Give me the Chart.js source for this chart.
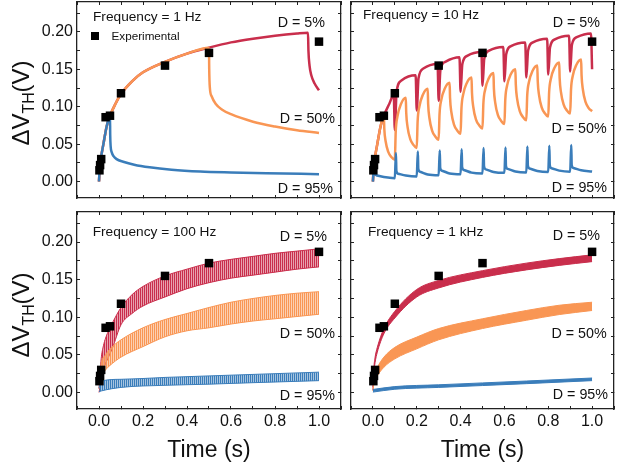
<!DOCTYPE html>
<html>
<head>
<meta charset="utf-8">
<script src="https://cdn.jsdelivr.net/npm/chart.js@4.4.0/dist/chart.umd.min.js"></script>
<style>
  html, body { margin: 0; padding: 0; background: #fff; }
  body { width: 619px; height: 467px; position: relative; overflow: hidden; font-family: 'Liberation Sans', Arial, sans-serif; color: #111; }
  canvas { position: absolute; }
  .lbl { position: absolute; white-space: nowrap; line-height: 1; transform: translateY(-50%); }
  .ytitle { position: absolute; white-space: nowrap; font-size: 24px; line-height: 1; transform: translate(-50%, -50%) rotate(-90deg); }
  .ytitle sub { font-size: 0.66em; vertical-align: -0.28em; }
  .sq { position: absolute; width: 8px; height: 8px; background: #000; }
</style>
</head>
<body>
<canvas id="c1" width="345" height="200" style="left:0;top:0;width:345px;height:200px"></canvas>
<canvas id="c2" width="274" height="200" style="left:345px;top:0;width:274px;height:200px"></canvas>
<canvas id="c3" width="345" height="262" style="left:0;top:205px;width:345px;height:262px"></canvas>
<canvas id="c4" width="274" height="262" style="left:345px;top:205px;width:274px;height:262px"></canvas>
<div class="ytitle" style="left:23px;top:103px">ΔV<sub>TH</sub>(V)</div>
<div class="ytitle" style="left:23px;top:315px">ΔV<sub>TH</sub>(V)</div>
<div class="sq" style="left:91px;top:32px"></div>
<script>
// axes
const xTicks = [-0.1, 0, 0.1, 0.2, 0.3, 0.4, 0.5, 0.6, 0.7, 0.8, 0.9, 1.0, 1.1]
const xLabelled = [0, 0.2, 0.4, 0.6, 0.8, 1.0]
const yTicks = [0, 0.025, 0.05, 0.075, 0.1, 0.125, 0.15, 0.175, 0.2, 0.225]
const yLabelled = [0, 0.05, 0.1, 0.15, 0.2]

// measured points (same in every panel)
const expTime = [0.002, 0.005, 0.01, 0.03, 0.05, 0.1, 0.3, 0.5, 1.0]
const expDvth = [0.015, 0.022, 0.030, 0.086, 0.088, 0.118, 0.155, 0.172, 0.187]

// 1 Hz
const t1Blue = [0, 0.003, 0.008, 0.02, 0.035, 0.05, 0.051, 0.053, 0.058, 0.066, 0.08, 0.11, 0.16, 0.23, 0.33, 0.46, 0.6, 0.76, 1.0]
const v1Blue = [0, 0.018, 0.03, 0.05, 0.074, 0.088, 0.062, 0.047, 0.039, 0.034, 0.030, 0.0265, 0.0225, 0.019, 0.0158, 0.0134, 0.0121, 0.011, 0.0099]
const t1Orange = [0, 0.003, 0.008, 0.02, 0.035, 0.05, 0.075, 0.1, 0.15, 0.2, 0.3, 0.4, 0.5, 0.501, 0.504, 0.512, 0.53, 0.56, 0.6, 0.7, 0.8, 0.9, 1.0]
const v1Orange = [0, 0.018, 0.03, 0.05, 0.074, 0.088, 0.104, 0.117, 0.134, 0.146, 0.160, 0.171, 0.179, 0.15, 0.125, 0.114, 0.104, 0.096, 0.090, 0.080, 0.0735, 0.0685, 0.065]
const t1Red = [0, 0.003, 0.008, 0.02, 0.035, 0.05, 0.075, 0.1, 0.15, 0.2, 0.3, 0.4, 0.5, 0.6, 0.7, 0.8, 0.9, 0.95, 0.952, 0.957, 0.965, 0.98, 1.0]
const v1Red = [0, 0.018, 0.03, 0.05, 0.074, 0.088, 0.104, 0.117, 0.134, 0.146, 0.160, 0.171, 0.179, 0.186, 0.191, 0.195, 0.198, 0.199, 0.175, 0.155, 0.142, 0.131, 0.122]

// 10 Hz
const t10Red = [0, 0.003, 0.008, 0.02, 0.035, 0.05, 0.075, 0.095,
  0.1, 0.108, 0.13, 0.195, 0.2, 0.208, 0.23, 0.295, 0.3, 0.308, 0.33, 0.395,
  0.4, 0.408, 0.43, 0.495, 0.5, 0.508, 0.53, 0.595, 0.6, 0.608, 0.63, 0.695,
  0.7, 0.708, 0.73, 0.795, 0.8, 0.808, 0.83, 0.895, 0.9, 0.908, 0.93, 0.995, 1.0]
const v10Red = [0, 0.018, 0.03, 0.05, 0.074, 0.088, 0.104, 0.116,
  0.069, 0.120, 0.135, 0.142, 0.095, 0.138, 0.151, 0.157, 0.108, 0.149, 0.160, 0.166,
  0.120, 0.157, 0.168, 0.173, 0.128, 0.164, 0.175, 0.180, 0.134, 0.170, 0.181, 0.186,
  0.139, 0.175, 0.186, 0.191, 0.143, 0.179, 0.190, 0.195, 0.147, 0.183, 0.193, 0.198, 0.150]
const t10Orange = [0, 0.003, 0.008, 0.02, 0.035, 0.05, 0.052, 0.058, 0.07, 0.085,
  0.1, 0.104, 0.112, 0.128, 0.15, 0.152, 0.158, 0.17, 0.185,
  0.2, 0.204, 0.212, 0.228, 0.25, 0.252, 0.258, 0.27, 0.285,
  0.3, 0.304, 0.312, 0.328, 0.35, 0.352, 0.358, 0.37, 0.385,
  0.4, 0.404, 0.412, 0.428, 0.45, 0.452, 0.458, 0.47, 0.485,
  0.5, 0.504, 0.512, 0.528, 0.55, 0.552, 0.558, 0.57, 0.585,
  0.6, 0.604, 0.612, 0.628, 0.65, 0.652, 0.658, 0.67, 0.685,
  0.7, 0.704, 0.712, 0.728, 0.75, 0.752, 0.758, 0.77, 0.785,
  0.8, 0.804, 0.812, 0.828, 0.85, 0.852, 0.858, 0.87, 0.885,
  0.9, 0.904, 0.912, 0.928, 0.95, 0.952, 0.958, 0.97, 0.985, 1.0]
const v10Orange = [0, 0.018, 0.03, 0.05, 0.074, 0.088, 0.0703, 0.0538, 0.0396, 0.0325,
  0.029, 0.0664, 0.0871, 0.1037, 0.112, 0.0919, 0.0731, 0.0571, 0.049,
  0.045, 0.0806, 0.1003, 0.1161, 0.124, 0.1036, 0.0846, 0.0682, 0.0601,
  0.056, 0.0902, 0.1092, 0.1244, 0.132, 0.1116, 0.0926, 0.0762, 0.0681,
  0.064, 0.0978, 0.1165, 0.1315, 0.139, 0.1186, 0.0996, 0.0832, 0.0751,
  0.071, 0.1043, 0.1228, 0.1376, 0.145, 0.1246, 0.1056, 0.0892, 0.0811,
  0.077, 0.1099, 0.1281, 0.1427, 0.150, 0.1296, 0.1106, 0.0942, 0.0861,
  0.082, 0.1149, 0.1331, 0.1477, 0.155, 0.1346, 0.1156, 0.0992, 0.0911,
  0.087, 0.1194, 0.1374, 0.1518, 0.159, 0.1386, 0.1196, 0.1032, 0.0951,
  0.091, 0.1234, 0.1414, 0.1558, 0.163, 0.1423, 0.123, 0.1064, 0.0981, 0.094]
const t10Blue = [0, 0.005, 0.007, 0.015, 0.05,
  0.1, 0.105, 0.107, 0.115, 0.15, 0.2, 0.205, 0.207, 0.215, 0.25,
  0.3, 0.305, 0.307, 0.315, 0.35, 0.4, 0.405, 0.407, 0.415, 0.45,
  0.5, 0.505, 0.507, 0.515, 0.55, 0.6, 0.605, 0.607, 0.615, 0.65,
  0.7, 0.705, 0.707, 0.715, 0.75, 0.8, 0.805, 0.807, 0.815, 0.85,
  0.9, 0.905, 0.907, 0.915, 0.95, 1.0]
const v10Blue = [0, 0.02, 0.011, 0.0085, 0.006,
  0.0045, 0.038, 0.0145, 0.0105, 0.008, 0.0067, 0.040, 0.017, 0.013, 0.0095,
  0.0085, 0.0415, 0.0185, 0.0145, 0.0108, 0.0098, 0.043, 0.0195, 0.0155, 0.0119,
  0.0108, 0.0447, 0.0203, 0.0163, 0.0128, 0.0116, 0.0455, 0.0209, 0.0169, 0.0135,
  0.0122, 0.047, 0.0214, 0.0174, 0.0141, 0.0127, 0.048, 0.0218, 0.0178, 0.0146,
  0.0131, 0.049, 0.0222, 0.0182, 0.0150, 0.0134]

// 100 Hz (upper / lower edge of the dense ripple)
const t100Red = [0, 0.01, 0.02, 0.04, 0.06, 0.1, 0.15, 0.2, 0.3, 0.4, 0.5, 0.6, 0.7, 0.8, 0.9, 1.0]
const hi100Red = [0.005, 0.045, 0.062, 0.08, 0.092, 0.113, 0.13, 0.141, 0.155, 0.164, 0.172, 0.177, 0.181, 0.185, 0.188, 0.191]
const lo100Red = [0, 0.015, 0.03, 0.045, 0.058, 0.09, 0.105, 0.115, 0.127, 0.138, 0.146, 0.152, 0.156, 0.16, 0.164, 0.167]
const t100Orange = [0, 0.01, 0.03, 0.05, 0.1, 0.2, 0.3, 0.4, 0.5, 0.6, 0.7, 0.8, 0.9, 1.0]
const hi100Orange = [0.012, 0.038, 0.05, 0.058, 0.07, 0.086, 0.097, 0.105, 0.113, 0.12, 0.125, 0.129, 0.132, 0.134]
const lo100Orange = [0.005, 0.02, 0.03, 0.036, 0.047, 0.061, 0.074, 0.082, 0.086, 0.091, 0.095, 0.098, 0.101, 0.104]
const t100Blue = [0, 0.01, 0.1, 0.3, 0.5, 0.7, 1.0]
const hi100Blue = [0.006, 0.015, 0.0175, 0.02, 0.022, 0.024, 0.027]
const lo100Blue = [0.001, 0.002, 0.0067, 0.0095, 0.011, 0.013, 0.0157]

// 1 kHz
const t1kRed = [0, 0.005, 0.01, 0.02, 0.05, 0.1, 0.2, 0.3, 0.5, 0.7, 0.85, 1.0]
const hi1kRed = [0.007, 0.035, 0.047, 0.060, 0.085, 0.108, 0.137, 0.149, 0.162, 0.172, 0.178, 0.183]
const lo1kRed = [0.003, 0.028, 0.040, 0.0535, 0.078, 0.099, 0.127, 0.139, 0.153, 0.163, 0.169, 0.174]
const t1kOrange = [0, 0.005, 0.01, 0.02, 0.05, 0.1, 0.2, 0.3, 0.5, 0.7, 0.85, 1.0]
const hi1kOrange = [0.012, 0.022, 0.027, 0.0335, 0.047, 0.060, 0.0736, 0.085, 0.098, 0.109, 0.116, 0.120]
const lo1kOrange = [0.002, 0.012, 0.016, 0.022, 0.0335, 0.0447, 0.058, 0.070, 0.085, 0.096, 0.1036, 0.109]
const t1kBlue = [0, 0.1, 0.3, 0.5, 0.7, 1.0]
const hi1kBlue = [0.004, 0.0078, 0.0102, 0.0127, 0.0152, 0.0192]
const lo1kBlue = [0.0005, 0.0043, 0.0067, 0.0092, 0.0117, 0.0157]

const RED = '#C92E4C'
const ORANGE = '#F99654'
const BLUE = '#3A7DBA'
const FONT = "'Liberation Sans', Arial, sans-serif"

function pts(ts, vs) {
    return ts.map((t, i) => ({ x: t, y: vs[i] }))
}

function stripes(color) {
    const c = document.createElement('canvas')
    c.width = 2
    c.height = 1
    const g = c.getContext('2d')
    g.fillStyle = color
    g.fillRect(0, 0, 1, 1)
    g.globalAlpha = 0.45
    g.fillRect(1, 0, 1, 1)
    return g.createPattern(c, 'repeat')
}

function experimental() {
    return {
        data: pts(expTime, expDvth), showLine: false,
        pointStyle: 'rect', pointRadius: 6, pointBackgroundColor: '#000', pointBorderWidth: 0, borderWidth: 0
    }
}

function curve(ts, vs, color) {
    return { data: pts(ts, vs), borderColor: color, borderWidth: 2.5, pointRadius: 0, cubicInterpolationMode: 'monotone', fill: false }
}

function band(ts, hi, lo, color, fillStyle) {
    return [
        { data: pts(ts, hi), borderColor: color, borderWidth: 1, pointRadius: 0, cubicInterpolationMode: 'monotone', fill: '+1', backgroundColor: fillStyle },
        { data: pts(ts, lo), borderColor: color, borderWidth: 1, pointRadius: 0, cubicInterpolationMode: 'monotone', fill: false }
    ]
}

// fixed box size, and no extra room for half-labels at the ends
function fixSize(s, w, h) {
    if (w !== null) s.width = w
    if (h !== null) s.height = h
    s.paddingTop = 0
    s.paddingBottom = 0
    s.paddingLeft = 0
    s.paddingRight = 0
}

function panel(id, datasets, showX, showY, yW, padTop, padRight) {
    const frame = { display: true, color: '#222', width: 1.3 }
    const grid = { drawOnChartArea: false, drawTicks: true, tickLength: -3, color: '#222', lineWidth: 1 }
    const setX = s => { s.ticks = xTicks.map(v => ({ value: v })) }
    const setY = s => { s.ticks = yTicks.map(v => ({ value: v })) }
    datasets.forEach(d => { d.xAxisID = 'x'; d.yAxisID = 'y' })
    return new Chart(document.getElementById(id), {
        type: 'line',
        data: { datasets },
        options: {
            responsive: false,
            animation: false,
            devicePixelRatio: 1,
            layout: { autoPadding: false, padding: { top: padTop, right: padRight, bottom: 0, left: 0 } },
            plugins: { legend: { display: false }, tooltip: { enabled: false } },
            scales: {
                x: {
                    type: 'linear', axis: 'x', position: 'bottom', min: -0.1, max: 1.1, bounds: 'data',
                    border: frame, grid, afterBuildTicks: setX,
                    afterFit: s => fixSize(s, null, showX ? 58 : 2),
                    ticks: {
                        autoSkip: false, maxRotation: 0, padding: 6, color: '#111', font: { family: FONT, size: 16 },
                        callback: v => (showX && xLabelled.includes(v)) ? v.toFixed(1) : ''
                    },
                    title: { display: showX, text: 'Time (s)', color: '#111', font: { family: FONT, size: 23 }, padding: { top: 0, bottom: 3 } }
                },
                x2: {
                    type: 'linear', axis: 'x', position: 'top', min: -0.1, max: 1.1, bounds: 'data',
                    border: frame, grid, afterBuildTicks: setX,
                    afterFit: s => fixSize(s, null, 0),
                    ticks: { autoSkip: false, maxRotation: 0, callback: () => '' }
                },
                y: {
                    type: 'linear', axis: 'y', position: 'left', min: -0.022, max: 0.24, bounds: 'data',
                    border: frame, grid, afterBuildTicks: setY,
                    afterFit: s => fixSize(s, yW, null),
                    ticks: {
                        autoSkip: false, padding: 7, color: '#111', font: { family: FONT, size: 16 },
                        callback: v => (showY && yLabelled.includes(v)) ? v.toFixed(2) : ''
                    }
                },
                y2: {
                    type: 'linear', axis: 'y', position: 'right', min: -0.022, max: 0.24, bounds: 'data',
                    border: frame, grid, afterBuildTicks: setY,
                    afterFit: s => fixSize(s, 0, null),
                    ticks: { autoSkip: false, callback: () => '' }
                }
            }
        }
    })
}

panel('c1', [
    experimental(),
    curve(t1Blue, v1Blue, BLUE),
    curve(t1Orange, v1Orange, ORANGE),
    curve(t1Red, v1Red, RED)
], false, true, 77, 2, 4)

panel('c2', [
    experimental(),
    curve(t10Blue, v10Blue, BLUE),
    curve(t10Orange, v10Orange, ORANGE),
    curve(t10Red, v10Red, RED)
], false, false, 6, 2, 5)

panel('c3', [
    experimental(),
    ...band(t100Blue, hi100Blue, lo100Blue, BLUE, stripes(BLUE)),
    ...band(t100Orange, hi100Orange, lo100Orange, ORANGE, stripes(ORANGE)),
    ...band(t100Red, hi100Red, lo100Red, RED, stripes(RED))
], true, true, 77, 7, 4)

panel('c4', [
    experimental(),
    ...band(t1kBlue, hi1kBlue, lo1kBlue, BLUE, BLUE),
    ...band(t1kOrange, hi1kOrange, lo1kOrange, ORANGE, ORANGE),
    ...band(t1kRed, hi1kRed, lo1kRed, RED, RED)
], true, false, 6, 7, 5)

function label(text, x, y, size, align) {
    const d = document.createElement('div')
    d.className = 'lbl'
    d.textContent = text
    d.style.fontSize = size + 'px'
    d.style.top = y + 'px'
    if (align === 'right') {
        d.style.right = (619 - x) + 'px'
    } else {
        d.style.left = x + 'px'
    }
    document.body.appendChild(d)
}

label('Frequency = 1 Hz', 93, 16.5, 13.7)
label('Experimental', 111.5, 36, 11.7)
label('D = 5%', 325, 21.7, 14.3, 'right')
label('D = 50%', 335, 118, 14.3, 'right')
label('D = 95%', 333, 188, 14.3, 'right')

label('Frequency = 10 Hz', 363, 15, 13.7)
label('D = 5%', 600, 21.7, 14.3, 'right')
label('D = 50%', 606.7, 128, 14.3, 'right')
label('D = 95%', 607, 187, 14.3, 'right')

label('Frequency = 100 Hz', 92.7, 231.7, 13.7)
label('D = 5%', 327, 235.7, 14.3, 'right')
label('D = 50%', 335, 333.3, 14.3, 'right')
label('D = 95%', 335, 395, 14.3, 'right')

label('Frequency = 1 kHz', 368, 231.7, 13.7)
label('D = 5%', 600, 235, 14.3, 'right')
label('D = 50%', 606.7, 333.3, 14.3, 'right')
label('D = 95%', 608, 393.7, 14.3, 'right')
</script>
</body>
</html>
